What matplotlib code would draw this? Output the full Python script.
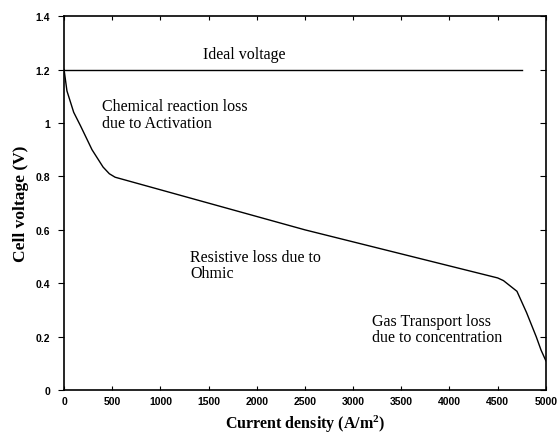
import matplotlib
matplotlib.use("Agg")
import matplotlib.pyplot as plt

# polarization curve
current = [0, 30, 100, 170, 290, 405, 470, 530, 1000, 1500, 2000, 2500, 3000, 3500, 4000, 4500,
           4560, 4700, 4800, 4900, 4950, 5000]
voltage = [1.2, 1.12, 1.04, 0.99, 0.90, 0.835, 0.81, 0.797, 0.75, 0.70, 0.65, 0.60, 0.555, 0.51, 0.465, 0.42,
           0.41, 0.37, 0.29, 0.20, 0.15, 0.11]
ideal_x = [0, 4750]
ideal_v = [1.2, 1.2]

xticks = [0, 500, 1000, 1500, 2000, 2500, 3000, 3500, 4000, 4500, 5000]
xticklabels = ['0', '500', '1000', '1500', '2000', '2500', '3000', '3500', '4000', '4500', '5000']
yticks = [0, 0.2, 0.4, 0.6, 0.8, 1.0, 1.2, 1.4]
yticklabels = ['0', '0.2', '0.4', '0.6', '0.8', '1', '1.2', '1.4']

plt.rcParams['mathtext.fontset'] = 'custom'
plt.rcParams['mathtext.rm'] = 'Liberation Serif:bold'
plt.rcParams['mathtext.it'] = 'Liberation Serif:bold'

fig = plt.figure(figsize=(5.57, 4.39), dpi=100)
ax = fig.add_axes([0.115, 0.109, 0.865, 0.852])

ax.plot(current, voltage, color='black', lw=1.0)
ax.plot(ideal_x, ideal_v, color='black', lw=1.0)

ax.set_xlim(0, 5000)
ax.set_ylim(0, 1.4)
ax.set_xticks(xticks)
ax.set_xticklabels(xticklabels, fontsize=7.5, fontweight='bold', family='Liberation Sans')
ax.set_yticks(yticks)
ax.set_yticklabels(yticklabels, fontsize=7.5, fontweight='bold', family='Liberation Sans')
ax.tick_params(axis='x', direction='in', length=3, width=0.8, top=True, pad=4)
ax.tick_params(axis='y', direction='out', length=4, width=0.8, pad=6)
ax.tick_params(axis='y', which='major', right=True)
for t in ax.yaxis.get_major_ticks():
    t.tick2line.set_marker(matplotlib.lines.TICKLEFT)
for s in ax.spines.values():
    s.set_linewidth(1.2)

serif = 'Liberation Serif'
fs = 11.5
ax.text(1440, 1.258, 'Ideal voltage', fontsize=fs, family=serif, va='center')
ax.text(390, 1.063, 'Chemical reaction loss', fontsize=fs, family=serif, va='center')
ax.text(390, 1.0, 'due to Activation', fontsize=fs, family=serif, va='center')
ax.text(1310, 0.50, 'Resistive loss due to', fontsize=fs, family=serif, va='center')
ax.text(1310, 0.44, 'Ohmic', fontsize=fs, family=serif, va='center')
ax.text(3200, 0.258, 'Gas Transport loss', fontsize=fs, family=serif, va='center')
ax.text(3200, 0.198, 'due to concentration', fontsize=fs, family=serif, va='center')

ax.set_xlabel('Current density (A/m$^2$)', fontsize=11.5, fontweight='bold', family=serif, labelpad=5)
ax.set_ylabel('Cell voltage (V)', fontsize=12.5, fontweight='bold', family=serif, labelpad=5)

fig.savefig('out.png', dpi=100)
